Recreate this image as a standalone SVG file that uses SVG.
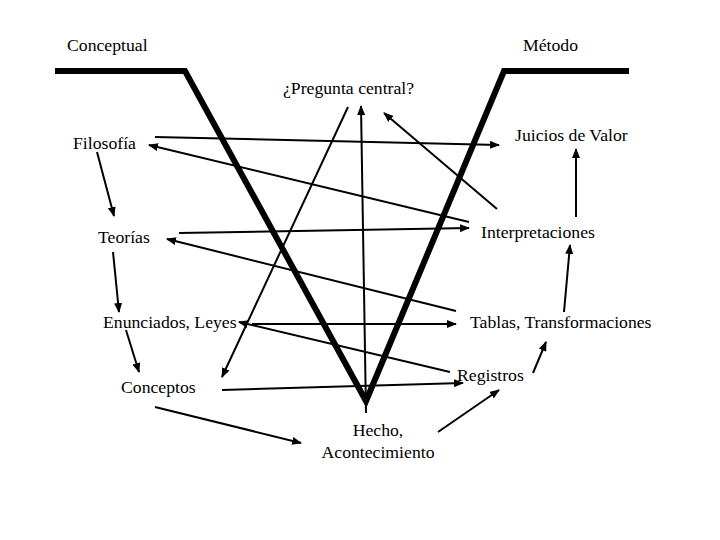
<svg xmlns="http://www.w3.org/2000/svg" width="720" height="540" viewBox="0 0 720 540">
<style>
text{font-family:"Liberation Serif","Times New Roman",serif;font-size:17.7px;fill:#000}
.c{fill:none;stroke:#000;stroke-width:2}
.v{fill:none;stroke:#000;stroke-width:6;stroke-linejoin:miter}
</style>
<defs>
<marker id="ah" markerUnits="userSpaceOnUse" markerWidth="10" markerHeight="8" refX="9" refY="4" orient="auto">
<path d="M0,0 L10,4 L0,8 Z" fill="#000"/>
</marker>
</defs>
<rect width="720" height="540" fill="#fff"/>
<g id="v-shape">
<polyline class="v" points="55,71 185,71 366,401 504,71 629,71"/>
</g>
<g id="connectors">
<line class="c" x1="97" y1="152" x2="114" y2="216" marker-end="url(#ah)"/>
<line class="c" x1="113" y1="252" x2="119" y2="312" marker-end="url(#ah)"/>
<line class="c" x1="126" y1="330" x2="139" y2="372" marker-end="url(#ah)"/>
<line class="c" x1="155" y1="407" x2="301" y2="443" marker-end="url(#ah)"/>
<line class="c" x1="438" y1="432" x2="499" y2="390" marker-end="url(#ah)"/>
<line class="c" x1="533" y1="373" x2="546" y2="342" marker-end="url(#ah)"/>
<line class="c" x1="564" y1="312" x2="570" y2="245" marker-end="url(#ah)"/>
<line class="c" x1="576" y1="217" x2="576" y2="149" marker-end="url(#ah)"/>
<line class="c" x1="155" y1="137" x2="499" y2="145" marker-end="url(#ah)"/>
<line class="c" x1="469" y1="222" x2="149" y2="145" marker-end="url(#ah)"/>
<line class="c" x1="179" y1="233" x2="469" y2="228" marker-end="url(#ah)"/>
<line class="c" x1="456" y1="311" x2="167" y2="239" marker-end="url(#ah)"/>
<line class="c" x1="252" y1="324" x2="456" y2="324" marker-end="url(#ah)"/>
<line class="c" x1="450" y1="372" x2="239" y2="322" marker-end="url(#ah)"/>
<line class="c" x1="222" y1="390" x2="463" y2="383" marker-end="url(#ah)"/>
<line class="c" x1="348" y1="107" x2="222" y2="377" marker-end="url(#ah)"/>
<line class="c" x1="497" y1="209" x2="384" y2="113" marker-end="url(#ah)"/>
<line class="c" x1="366" y1="413" x2="361" y2="106" marker-end="url(#ah)"/>
</g>
<g id="conceptual"><text x="67" y="51">Conceptual</text></g>
<g id="metodo"><text x="523" y="51">Método</text></g>
<g id="pregunta"><text x="283" y="94">¿Pregunta central?</text></g>
<g id="filosofia"><text x="73" y="149">Filosofía</text></g>
<g id="juicios"><text x="515" y="141">Juicios de Valor</text></g>
<g id="teorias"><text x="98" y="243">Teorías</text></g>
<g id="interpretaciones"><text x="481" y="238">Interpretaciones</text></g>
<g id="enunciados"><text x="103" y="328">Enunciados, Leyes</text></g>
<g id="tablas"><text x="470" y="328">Tablas, Transformaciones</text></g>
<g id="registros"><text x="457" y="381">Registros</text></g>
<g id="conceptos"><text x="121" y="393">Conceptos</text></g>
<g id="hecho"><text x="378" y="436" text-anchor="middle">Hecho,</text><text x="378" y="458" text-anchor="middle">Acontecimiento</text></g>
</svg>
